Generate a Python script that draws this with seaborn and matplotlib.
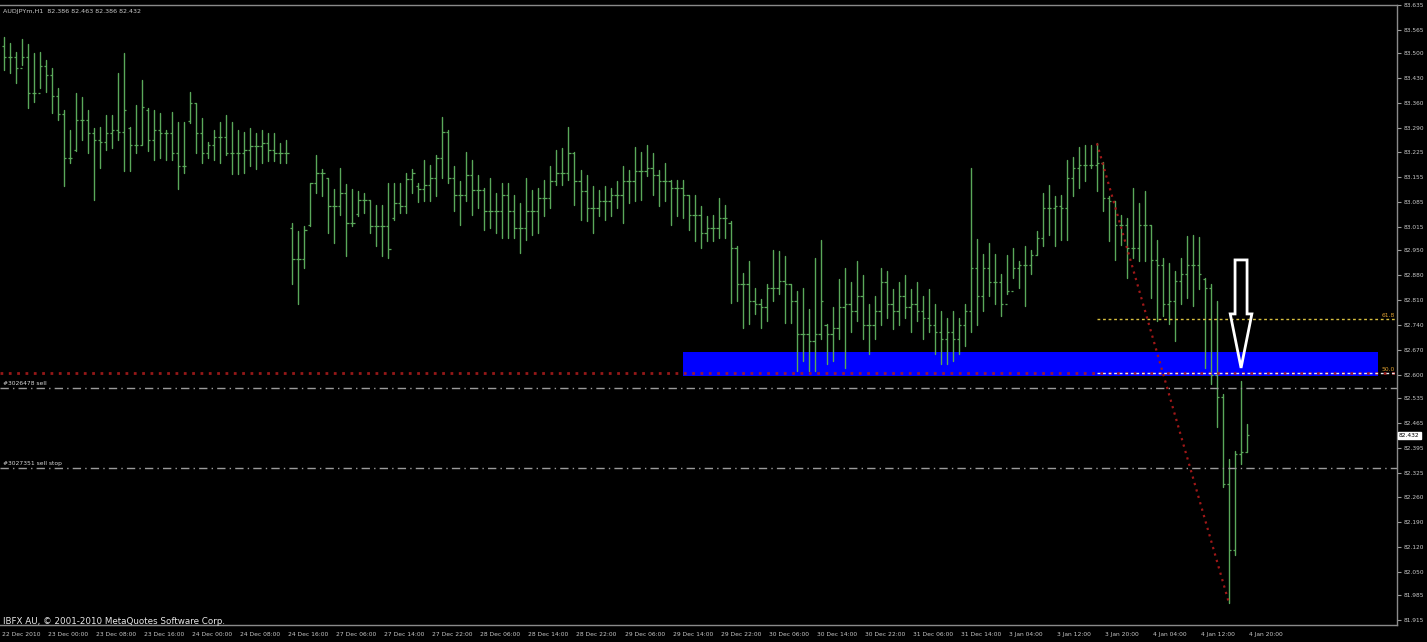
import numpy as np
import pandas as pd
import matplotlib
matplotlib.use('Agg')
import matplotlib.pyplot as plt
import matplotlib.transforms as mtrans
from matplotlib.patches import Rectangle, Polygon
import seaborn as sns

# AUDJPYm H1 bars, 22 Dec 2010 17:00 .. 4 Jan 2011 20:00
opens = [
    83.520, 83.490, 83.490, 83.460, 83.490, 83.388, 83.388, 83.463, 83.440, 83.380,
    83.330, 83.207, 83.230, 83.314, 83.314, 83.277, 83.258, 83.253, 83.277, 83.286,
    83.281, 83.290, 83.244, 83.244, 83.340, 83.258, 83.286, 83.277, 83.277, 83.221,
    83.184, 83.310, 83.360, 83.277, 83.221, 83.244, 83.267, 83.267, 83.221, 83.221,
    83.221, 83.230, 83.240, 83.240, 83.249, 83.230, 83.221, 83.221, 83.010, 82.924,
    82.924, 83.020, 83.137, 83.165, 83.150, 83.072, 83.072, 83.110, 83.026, 83.050,
    83.091, 83.091, 83.017, 83.017, 83.017, 83.040, 83.082, 83.072, 83.147, 83.130,
    83.120, 83.132, 83.151, 83.207, 83.281, 83.151, 83.105, 83.105, 83.160, 83.118,
    83.118, 83.058, 83.058, 83.058, 83.105, 83.058, 83.012, 83.012, 83.058, 83.058,
    83.095, 83.095, 83.142, 83.165, 83.165, 83.221, 83.142, 83.114, 83.067, 83.067,
    83.086, 83.086, 83.105, 83.105, 83.142, 83.142, 83.170, 83.170, 83.179, 83.160,
    83.142, 83.142, 83.123, 83.123, 83.105, 83.049, 83.049, 82.998, 83.012, 83.012,
    83.039, 83.025, 82.956, 82.854, 82.854, 82.807, 82.798, 82.789, 82.844, 82.844,
    82.863, 82.854, 82.807, 82.714, 82.714, 82.696, 82.714, 82.740, 82.714, 82.733,
    82.790, 82.800, 82.780, 82.820, 82.740, 82.740, 82.780, 82.860, 82.800, 82.780,
    82.820, 82.790, 82.800, 82.780, 82.760, 82.740, 82.720, 82.700, 82.720, 82.700,
    82.740, 82.780, 82.900, 82.820, 82.900, 82.860, 82.860, 82.800, 82.835, 82.900,
    82.909, 82.909, 82.937, 82.984, 83.067, 83.067, 83.072, 83.067, 83.151, 83.179,
    83.188, 83.188, 83.188, 83.193, 83.095, 83.086, 83.021, 83.021, 82.956, 82.956,
    83.021, 83.021, 82.923, 82.909, 82.798, 82.807, 82.863, 82.882, 82.909, 82.909,
    82.870, 82.844, 82.600, 82.538, 82.296, 82.110, 82.380, 82.386,
]
highs = [
    83.546, 83.528, 83.504, 83.539, 83.526, 83.500, 83.504, 83.481, 83.458, 83.402,
    83.342, 83.286, 83.388, 83.379, 83.342, 83.291, 83.295, 83.328, 83.328, 83.444,
    83.502, 83.295, 83.356, 83.425, 83.346, 83.342, 83.334, 83.286, 83.337, 83.309,
    83.309, 83.393, 83.360, 83.319, 83.253, 83.286, 83.309, 83.328, 83.309, 83.286,
    83.281, 83.291, 83.277, 83.286, 83.277, 83.277, 83.249, 83.258, 83.026, 83.003,
    83.017, 83.137, 83.216, 83.175, 83.151, 83.119, 83.179, 83.133, 83.119, 83.114,
    83.110, 83.091, 83.077, 83.077, 83.137, 83.137, 83.137, 83.165, 83.175, 83.137,
    83.202, 83.188, 83.216, 83.323, 83.286, 83.184, 83.142, 83.225, 83.202, 83.160,
    83.123, 83.151, 83.109, 83.137, 83.137, 83.105, 83.081, 83.151, 83.118, 83.123,
    83.146, 83.184, 83.230, 83.235, 83.295, 83.225, 83.174, 83.160, 83.128, 83.118,
    83.128, 83.123, 83.142, 83.184, 83.174, 83.239, 83.225, 83.244, 83.221, 83.174,
    83.193, 83.146, 83.146, 83.146, 83.105, 83.105, 83.072, 83.044, 83.049, 83.095,
    83.077, 83.030, 82.960, 82.886, 82.919, 82.844, 82.812, 82.854, 82.951, 82.947,
    82.933, 82.854, 82.835, 82.844, 82.784, 82.928, 82.979, 82.742, 82.789, 82.868,
    82.900, 82.860, 82.920, 82.880, 82.800, 82.820, 82.900, 82.890, 82.840, 82.860,
    82.880, 82.840, 82.860, 82.820, 82.840, 82.800, 82.780, 82.760, 82.780, 82.760,
    82.800, 83.180, 82.980, 82.940, 82.970, 82.940, 82.882, 82.937, 82.956, 82.919,
    82.960, 82.951, 83.002, 83.109, 83.132, 83.100, 83.104, 83.202, 83.211, 83.239,
    83.244, 83.244, 83.248, 83.197, 83.100, 83.086, 83.049, 83.039, 83.123, 83.081,
    83.114, 83.021, 82.979, 82.928, 82.914, 82.891, 82.928, 82.988, 82.993, 82.986,
    82.872, 82.854, 82.807, 82.547, 82.366, 82.389, 82.584, 82.463,
]
lows = [
    83.453, 83.444, 83.416, 83.467, 83.346, 83.365, 83.402, 83.393, 83.332, 83.314,
    83.128, 83.193, 83.226, 83.258, 83.221, 83.091, 83.179, 83.230, 83.235, 83.258,
    83.170, 83.170, 83.221, 83.244, 83.226, 83.202, 83.207, 83.202, 83.202, 83.119,
    83.165, 83.305, 83.221, 83.193, 83.207, 83.202, 83.193, 83.216, 83.161, 83.161,
    83.165, 83.184, 83.175, 83.193, 83.198, 83.198, 83.193, 83.193, 82.854, 82.798,
    82.900, 83.017, 83.110, 83.100, 82.998, 82.970, 83.049, 82.933, 83.017, 83.044,
    83.054, 82.998, 82.961, 82.933, 82.928, 83.035, 83.054, 83.054, 83.110, 83.085,
    83.086, 83.086, 83.100, 83.151, 83.137, 83.058, 83.021, 83.086, 83.049, 83.067,
    83.007, 83.012, 82.998, 82.984, 82.984, 82.984, 82.942, 82.979, 82.993, 82.998,
    83.044, 83.067, 83.132, 83.132, 83.146, 83.077, 83.035, 83.030, 82.998, 83.044,
    83.035, 83.044, 83.067, 83.025, 83.081, 83.086, 83.091, 83.156, 83.105, 83.072,
    83.086, 83.021, 83.044, 83.039, 83.007, 82.974, 82.956, 82.974, 82.974, 82.984,
    82.984, 82.802, 82.807, 82.733, 82.742, 82.770, 82.733, 82.752, 82.807, 82.826,
    82.747, 82.747, 82.612, 82.640, 82.612, 82.612, 82.700, 82.631, 82.640, 82.700,
    82.620, 82.720, 82.750, 82.700, 82.660, 82.700, 82.740, 82.760, 82.730, 82.740,
    82.760, 82.720, 82.750, 82.700, 82.720, 82.660, 82.630, 82.630, 82.640, 82.660,
    82.680, 82.720, 82.740, 82.780, 82.820, 82.800, 82.765, 82.826, 82.872, 82.844,
    82.793, 82.882, 82.937, 82.960, 82.993, 82.960, 82.979, 82.979, 83.100, 83.123,
    83.142, 83.179, 83.114, 83.058, 82.974, 82.923, 82.965, 82.872, 82.928, 82.919,
    82.919, 82.816, 82.751, 82.765, 82.742, 82.696, 82.798, 82.816, 82.793, 82.840,
    82.621, 82.575, 82.454, 82.287, 81.962, 82.097, 82.352, 82.386,
]
closes = [
    83.490, 83.490, 83.460, 83.490, 83.388, 83.388, 83.463, 83.440, 83.380, 83.330,
    83.207, 83.207, 83.314, 83.314, 83.277, 83.258, 83.253, 83.277, 83.286, 83.281,
    83.342, 83.244, 83.244, 83.351, 83.258, 83.286, 83.277, 83.277, 83.221, 83.184,
    83.184, 83.360, 83.277, 83.221, 83.244, 83.267, 83.267, 83.221, 83.221, 83.221,
    83.230, 83.240, 83.240, 83.249, 83.230, 83.221, 83.221, 83.221, 82.924, 82.924,
    83.007, 83.137, 83.165, 83.165, 83.072, 83.072, 83.110, 83.026, 83.026, 83.091,
    83.091, 83.017, 83.017, 83.017, 82.952, 83.082, 83.072, 83.147, 83.165, 83.120,
    83.132, 83.151, 83.207, 83.281, 83.151, 83.105, 83.105, 83.160, 83.118, 83.118,
    83.058, 83.058, 83.058, 83.105, 83.058, 83.012, 83.012, 83.058, 83.058, 83.095,
    83.095, 83.142, 83.165, 83.165, 83.221, 83.142, 83.114, 83.067, 83.067, 83.086,
    83.086, 83.105, 83.105, 83.142, 83.142, 83.170, 83.170, 83.179, 83.160, 83.142,
    83.142, 83.123, 83.123, 83.105, 83.049, 83.049, 82.998, 83.012, 83.012, 83.039,
    83.039, 82.956, 82.854, 82.854, 82.807, 82.798, 82.789, 82.844, 82.844, 82.863,
    82.854, 82.807, 82.714, 82.714, 82.696, 82.714, 82.807, 82.714, 82.733, 82.790,
    82.800, 82.780, 82.820, 82.740, 82.740, 82.780, 82.860, 82.800, 82.780, 82.820,
    82.790, 82.800, 82.780, 82.760, 82.740, 82.720, 82.700, 82.720, 82.700, 82.740,
    82.780, 82.900, 82.820, 82.900, 82.860, 82.860, 82.800, 82.835, 82.900, 82.909,
    82.909, 82.937, 82.984, 83.067, 83.067, 83.072, 83.067, 83.151, 83.179, 83.188,
    83.188, 83.188, 83.193, 83.095, 83.086, 83.021, 83.021, 82.956, 82.956, 83.021,
    83.021, 82.923, 82.909, 82.798, 82.807, 82.863, 82.882, 82.909, 82.909, 82.882,
    82.844, 82.600, 82.538, 82.296, 82.110, 82.380, 82.386, 82.432,
]

price_ticks = [83.635, 83.565, 83.500, 83.430, 83.360, 83.290, 83.225, 83.155, 83.085,
               83.015, 82.950, 82.880, 82.810, 82.740, 82.670, 82.600, 82.535, 82.465,
               82.395, 82.325, 82.260, 82.190, 82.120, 82.050, 81.985, 81.915]
time_labels = ['22 Dec 2010', '23 Dec 00:00', '23 Dec 08:00', '23 Dec 16:00', '24 Dec 00:00',
               '24 Dec 08:00', '24 Dec 16:00', '27 Dec 06:00', '27 Dec 14:00', '27 Dec 22:00',
               '28 Dec 06:00', '28 Dec 14:00', '28 Dec 22:00', '29 Dec 06:00', '29 Dec 14:00',
               '29 Dec 22:00', '30 Dec 06:00', '30 Dec 14:00', '30 Dec 22:00', '31 Dec 06:00',
               '31 Dec 14:00', '3 Jan 04:00', '3 Jan 12:00', '3 Jan 20:00', '4 Jan 04:00',
               '4 Jan 12:00', '4 Jan 20:00']

# levels drawn on the chart
entry_level = 82.606          # red dotted line
sell_level = 82.564           # #3026478 sell
sell_stop_level = 82.339      # #3027351 sell stop
zone_top, zone_bottom = 82.665, 82.597
fib_ratios = [61.8, 50.0]
swing_high_bar, swing_low_bar = 182, 204
arrow_bar = 206

df = pd.DataFrame({'bar': np.arange(len(closes)), 'open': opens, 'high': highs,
                   'low': lows, 'close': closes})

sns.set_theme(style='dark', rc={'axes.facecolor': 'black', 'figure.facecolor': 'black',
                                'axes.grid': False})
plt.rcParams['font.family'] = ['DejaVu Sans']

fig = plt.figure(figsize=(14.27, 6.42), dpi=100)
ax = fig.add_axes([0, 17 / 642, 1397 / 1427, 620 / 642])
ax.set_facecolor('black')

bar_color = '#5aa85a'
long = df.melt(id_vars='bar', value_vars=['low', 'high'], value_name='price')
sns.lineplot(data=long, x='bar', y='price', units='bar', estimator=None,
             color=bar_color, lw=1, ax=ax, legend=False)
ax.hlines(df['open'], df['bar'] - 0.38, df['bar'], color=bar_color, lw=0.9)
ax.hlines(df['close'], df['bar'], df['bar'] + 0.38, color=bar_color, lw=0.9)

xmin, xmax = -0.67, 231.97
ax.set_xlim(xmin, xmax)
ax.set_ylim(81.901, 83.6294)

# support zone and trade lines
ax.add_patch(Rectangle((113.1, zone_bottom), 228.8 - 113.1, zone_top - zone_bottom,
                       facecolor='#0000ff', edgecolor='none', zorder=1))
ax.axhline(entry_level, color='#b01c1c', lw=2, ls=(0, (1, 2)), alpha=0.85, zorder=2)
ax.axhline(sell_level, color='#9a9a9a', lw=1, ls=(0, (6, 3, 1, 3)), zorder=2)
ax.axhline(sell_stop_level, color='#9a9a9a', lw=1, ls=(0, (6, 3, 1, 3)), zorder=2)

blend = mtrans.blended_transform_factory(ax.transAxes, ax.transData)
ax.text(3 / 1397, sell_level + 0.006, '#3026478 sell', transform=blend, fontsize=4.3,
        color='#d8d8d8', va='bottom', ha='left')
ax.text(3 / 1397, sell_stop_level + 0.006, '#3027351 sell stop', transform=blend,
        fontsize=4.3, color='#d8d8d8', va='bottom', ha='left')

# fibonacci from swing high to swing low
hi = df['high'][swing_high_bar]
lo = df['low'][swing_low_bar]
ax.plot([swing_high_bar, swing_low_bar], [hi, lo], color='#a01818', lw=1.6,
        ls=(0, (1, 2)), zorder=3)
for r, col in zip(fib_ratios, ['#d8c040', '#e8e8e8']):
    lvl = lo + (hi - lo) * r / 100
    ax.hlines(lvl, swing_high_bar, xmax, color=col, lw=1, ls=(0, (2, 2)), zorder=3)
    ax.text(xmax - 0.3, lvl + 0.004, f'{r:.1f}', fontsize=4.3, color='#e0a030',
            ha='right', va='bottom')

# hollow arrow pointing at the retest
tx = arrow_bar
ty = df['high'][arrow_bar] + 0.036
hh = 0.151
arrow = Polygon([(tx - 1.0, ty + 2 * hh), (tx + 1.0, ty + 2 * hh), (tx + 1.0, ty + hh),
                 (tx + 1.8, ty + hh), (tx, ty), (tx - 1.8, ty + hh), (tx - 1.0, ty + hh)],
                closed=True, facecolor='none', edgecolor='white', lw=2, zorder=5)
ax.add_patch(arrow)

# axes styling like the terminal
ax.spines['left'].set_visible(False)
for side in ['right', 'bottom', 'top']:
    ax.spines[side].set_visible(True)
    ax.spines[side].set_color('#8a8a8a')
    ax.spines[side].set_linewidth(1)

ax.yaxis.tick_right()
ax.set_yticks(price_ticks)
ax.set_yticklabels([f'{p:.3f}' for p in price_ticks])
ax.tick_params(axis='y', colors='#9a9a9a', labelsize=4.2, length=3, width=0.8, pad=2,
               labelcolor='#c8c8c8')
xt = [max(8 * k - 1, xmin) for k in range(len(time_labels))]
ax.set_xticks(xt)
ax.set_xticklabels(time_labels, ha='left')
ax.tick_params(axis='x', colors='#9a9a9a', labelsize=4.3, length=4, width=0.8, pad=1,
               labelcolor='#c8c8c8')
offset = mtrans.ScaledTranslation(2 / 100, 0, fig.dpi_scale_trans)
for lab in ax.get_xticklabels():
    lab.set_transform(lab.get_transform() + offset)
ax.set_xlabel('')
ax.set_ylabel('')

# current price marker
ax.text(1.0015, closes[-1], f'{closes[-1]:.3f}', transform=blend, fontsize=4.2,
        color='black', ha='left', va='center',
        bbox=dict(boxstyle='square,pad=0.15', facecolor='white', edgecolor='white'))

fig.text(3 / 1427, 1 - 12 / 642,
         f'AUDJPYm,H1  {opens[-1]:.3f} {highs[-1]:.3f} {lows[-1]:.3f} {closes[-1]:.3f}',
         fontsize=4.6, color='#c8c8c8', ha='left', va='center')
fig.text(3 / 1427, 1 - 621 / 642, 'IBFX AU, \u00a9 2001-2010 MetaQuotes Software Corp.',
         fontsize=6.3, color='#e8e8e8', ha='left', va='center')

fig.savefig('out.png', dpi=100, facecolor='black')
